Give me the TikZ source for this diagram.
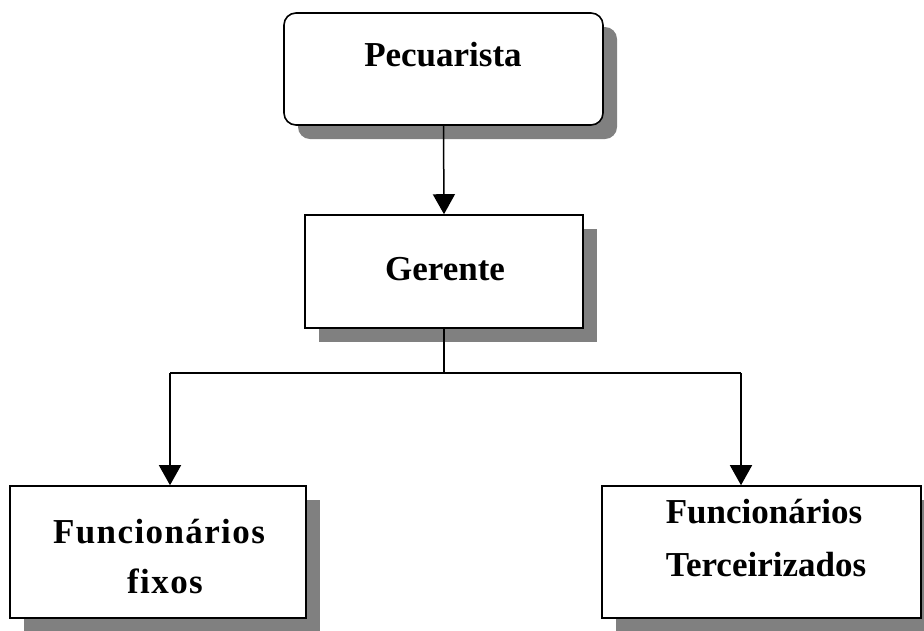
\documentclass[tikz,border=0pt]{standalone}
\usepackage{fontspec}
\setmainfont{Liberation Serif}
\usetikzlibrary{arrows.meta,shadows}
\begin{document}
\begin{tikzpicture}[x=1pt,y=-1pt,
  box/.style={draw=black, line width=1.6pt, fill=white, inner sep=0pt,
    drop shadow={shadow xshift=14pt, shadow yshift=-14pt, fill=black!50, opacity=1}},
  lbl/.style={anchor=base, inner sep=0pt, font=\bfseries\fontsize{35}{50}\selectfont},
  conn/.style={line width=1.5pt},
  arr/.style={conn, -{Triangle[length=20pt, width=22pt]}}]
\useasboundingbox (0,0) rectangle (924,630);
% boxes
\node[box, rounded corners=12pt, minimum width=319pt, minimum height=112pt] (pec) at (443.5,69) {};
\node[box, minimum width=278pt, minimum height=113pt] (ger) at (444,271.5) {};
\node[box, minimum width=296pt, minimum height=132pt] (fix) at (158,552) {};
\node[box, minimum width=319pt, minimum height=132pt] (ter) at (761.5,552) {};
% labels
\node[lbl] (tpec) at (443,66) {Pecuarista};
\node[lbl] (tger) at (445,280) {Gerente};
\node[lbl] (tfix1) at (159,543) {\addfontfeature{LetterSpace=4}Funcionários};
\node[lbl] (tfix2) at (165,593) {\addfontfeature{LetterSpace=4}fixos};
\node[lbl] (tter1) at (764,523) {Funcionários};
\node[lbl] (tter2) at (766,576) {Terceirizados};
% connectors
\coordinate (j) at (444,373);
\coordinate (jl) at (170,373);
\coordinate (jr) at (741,373);
\draw[arr] (pec.south) -- (ger.north);
\draw[conn] (ger.south) -- (j);
\draw[conn] (jl) -- (jr);
\draw[arr] (jl) -- (jl |- fix.north);
\draw[arr] (jr) -- (jr |- ter.north);
\end{tikzpicture}
\end{document}
